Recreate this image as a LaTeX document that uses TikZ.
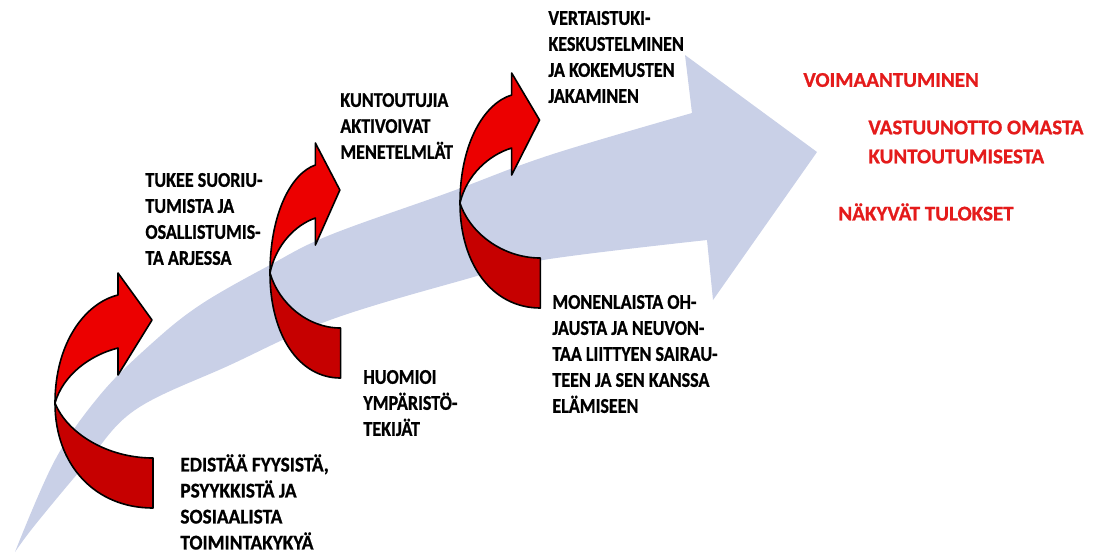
\documentclass[tikz,border=0pt]{standalone}
\usepackage{fontspec}
\setmainfont[BoldFeatures={FakeBold=0.8}]{Carlito}
\newfontfamily\lblfont[FakeStretch=0.86, BoldFeatures={FakeBold=0.8}]{Carlito}
\newfontfamily\lblwidefont[FakeStretch=0.92, BoldFeatures={FakeBold=0.8}]{Carlito}
\usepackage{tikz}
\definecolor{col1}{HTML}{C9D0E7}
\definecolor{col2}{HTML}{EC0000}
\definecolor{col3}{HTML}{C60000}
\definecolor{col4}{HTML}{E41B1B}

\begin{document}
\begin{tikzpicture}[x=0.5pt, y=-0.5pt]
    \tikzstyle{lbl} = [anchor=west, align=left, inner sep=0pt, font=\lblfont\bfseries\fontsize{10.5}{13}\selectfont];
    \tikzstyle{res} = [lbl, text=col4, font=\bfseries\fontsize{10.5}{14.5}\selectfont];
    \useasboundingbox (0,0) rectangle (1106,554);

    % big arrow
    \fill[col1] plot[smooth, tension=0.6] coordinates {(15,552) (55,460) (100,395) (150,345) (200,305) (270,265) (330,235) (450,192) (550,155) (692,113)}
      -- (685,55) -- (817,152) -- (713,300)
      -- plot[smooth, tension=0.6] coordinates {(707,240) (543,260) (463,280) (330,320) (230,365) (135,410) (85,465) (35,525) (15,552)} -- cycle;

    % red arrows
    \foreach \ax/\ay/\s in {55/403/1, 270/273/0.72, 460/203/0.82} {
      \begin{scope}[shift={(\ax,\ay)}, xscale=\s, draw=black, line width=0.8pt, line join=round]
        \filldraw[fill=col3] (0,0) .. controls (0,62) and (40,105) .. (98,105) -- (98,55)
          .. controls (52,55) and (12,30) .. (0,0) -- cycle;
        \filldraw[fill=col2] (0,0) .. controls (0,-60) and (30,-100) .. (63,-108) -- (63,-130) -- (97,-83)
          -- (63,-28) -- (63,-55) .. controls (35,-48) and (8,-28) .. (0,0) -- cycle;
      \end{scope}
    }

    \node[lbl, font=\lblwidefont\bfseries\fontsize{10.5}{13}\selectfont] (edistaa) at (180,502) {EDISTÄÄ FYYSISTÄ,\\PSYYKKISTÄ JA\\SOSIAALISTA\\TOIMINTAKYKYÄ};
    \node[lbl] (tukee)       at (145,219) {TUKEE SUORIU-\\TUMISTA JA\\OSALLISTUMIS-\\TA ARJESSA};
    \node[lbl] (kuntoutujia) at (340,126) {KUNTOUTUJIA\\AKTIVOIVAT\\MENETELMLÄT};
    \node[lbl] (huomioi)     at (363,403) {HUOMIOI\\YMPÄRISTÖ-\\TEKIJÄT};
    \node[lbl] (vertaistuki) at (548,57)  {VERTAISTUKI-\\KESKUSTELMINEN\\JA KOKEMUSTEN\\JAKAMINEN};
    \node[lbl] (monenlaista) at (552,354) {MONENLAISTA OH-\\JAUSTA JA NEUVON-\\TAA LIITTYEN SAIRAU-\\TEEN JA SEN KANSSA\\ELÄMISEEN};

    \node[res] (voimaantuminen) at (803,80)  {VOIMAANTUMINEN};
    \node[res] (vastuunotto)    at (868,142) {VASTUUNOTTO OMASTA\\KUNTOUTUMISESTA};
    \node[res] (tulokset)       at (838,212) {NÄKYVÄT TULOKSET};
  \end{tikzpicture}
\end{document}
